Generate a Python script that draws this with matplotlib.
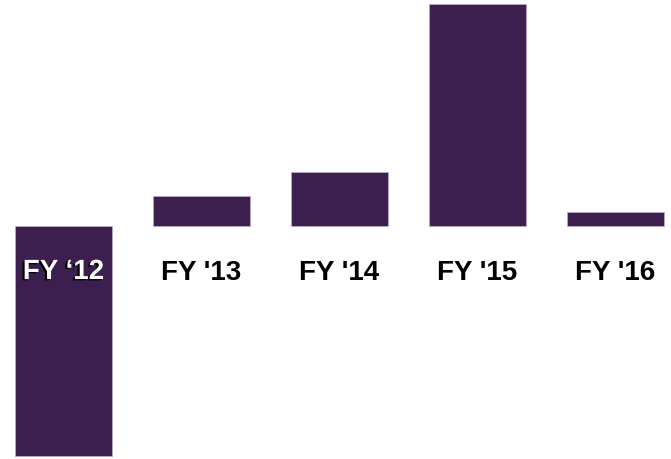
import matplotlib
matplotlib.use("Agg")
import matplotlib.pyplot as plt
import matplotlib.patheffects as pe
from matplotlib import font_manager

years = ["FY \u201812", "FY '13", "FY '14", "FY '15", "FY '16"]
values = [-230, 30, 54, 222, 14]

bar_color = "#3d1f4f"

names = {f.name for f in font_manager.fontManager.ttflist}
family = ["Liberation Sans Narrow", "DejaVu Sans"] if "Liberation Sans Narrow" in names else ["Liberation Sans", "DejaVu Sans"]
size = 22 if "Liberation Sans Narrow" in names else 20

fig = plt.figure(figsize=(6.71, 4.60), dpi=100)
ax = fig.add_axes([0, 0, 1, 1])
x = list(range(len(years)))
ax.bar(x, values, width=0.696, color=bar_color, edgecolor="#b9a9c4", linewidth=0.6)

ax.set_xlim(-0.460, 4.402)
ax.set_ylim(-233, 227)
ax.axis("off")

for i, (lab, v) in enumerate(zip(years, values)):
    inside = v < 0
    t = ax.text(i, -53, lab, ha="center", va="baseline", fontsize=size,
                fontweight="bold", family=family,
                color="white" if inside else "black")
    if inside:
        t.set_path_effects([pe.withSimplePatchShadow(offset=(-1.5, -1.0),
                                                     shadow_rgbFace="black", alpha=1.0)])

fig.savefig("out.png", dpi=100)
